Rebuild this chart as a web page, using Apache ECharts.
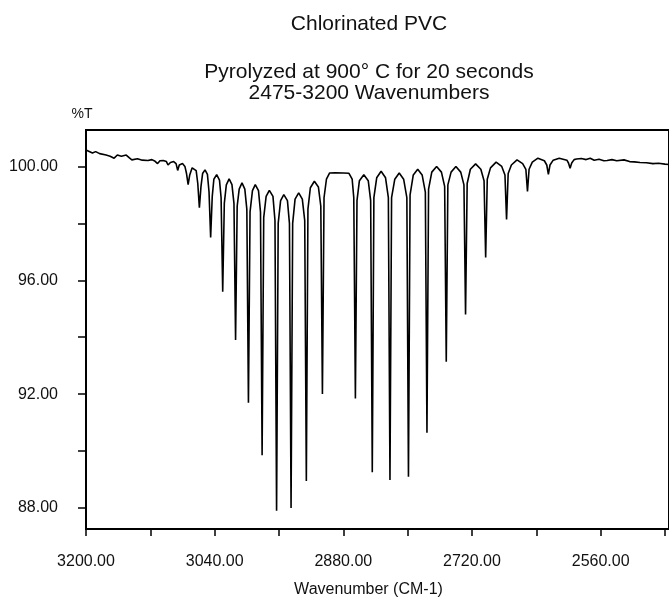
<!DOCTYPE html>
<html>
<head>
<meta charset="utf-8">
<title>Chlorinated PVC</title>
<script src="https://cdn.jsdelivr.net/npm/echarts/dist/echarts.min.js"></script>
<style>
  html, body { margin: 0; padding: 0; background: #fff; }
  #chart { width: 669px; height: 603px; }
</style>
</head>
<body>
<div id="chart"></div>
<script>
// spectrum, high wavenumber -> low
let wavenumbers = [
  3200, 3192, 3188, 3183, 3175, 3170, 3165, 3161, 3156, 3150, 3146, 3143, 3136, 3130,
  3123, 3118, 3114, 3111, 3108, 3104, 3100, 3098, 3095, 3091, 3088, 3086, 3084, 3080,
  3077, 3075, 3073, 3071, 3068, 3066,
  3063, 3061, 3059, 3057, 3055, 3052,
  3049, 3047, 3045, 3043, 3041, 3037.5,
  3034, 3032, 3030, 3028, 3025.5, 3022,
  3018.5, 3016, 3014, 3012, 3009.5, 3006,
  3002.5, 3000, 2998, 2996, 2993, 2989.5,
  2985.5, 2983, 2981, 2979, 2976, 2972,
  2967.5, 2965, 2963, 2961, 2958, 2954,
  2949.5, 2947, 2945, 2943, 2940, 2935.5,
  2931, 2928, 2926, 2924, 2921, 2916,
  2911, 2908, 2906, 2904, 2901, 2897,
  2890, 2880, 2873,
  2869, 2867, 2865, 2863, 2860, 2854.5,
  2849, 2846, 2844, 2842, 2838.5, 2833,
  2827.5, 2824, 2822, 2820, 2816, 2810.5,
  2805, 2801, 2799, 2797, 2793, 2787.5,
  2782, 2778, 2776, 2774, 2770, 2764,
  2758, 2754, 2752, 2750, 2746, 2740,
  2734, 2730, 2728, 2726, 2722, 2715.5,
  2709, 2705, 2703, 2701, 2697, 2690,
  2683, 2679, 2677, 2675, 2671, 2664,
  2657, 2653, 2651, 2649, 2645, 2638,
  2630, 2627, 2625, 2623, 2619, 2611.5,
  2602, 2600, 2598, 2596, 2593, 2590,
  2584, 2578, 2573, 2568, 2562, 2556, 2552, 2546, 2540, 2531, 2524, 2518, 2511, 2503,
  2495, 2488, 2480, 2475
];
let transmittance = [
  100.58, 100.47, 100.52, 100.45, 100.40, 100.36, 100.29, 100.40, 100.36, 100.40, 100.30, 100.23, 100.27, 100.22,
  100.21, 100.24, 100.18, 100.10, 100.20, 100.21, 100.17, 100.05, 100.14, 100.17, 100.10, 99.86, 100.05, 100.10,
  100.0, 99.75, 99.36, 99.7, 99.95, 100.0,
  99.85, 99.4, 98.55, 99.3, 99.75, 99.88,
  99.72, 99.1, 97.5, 98.95, 99.55, 99.71,
  99.52, 98.9, 95.6, 98.7, 99.35, 99.56,
  99.36, 98.7, 93.9, 98.6, 99.2, 99.42,
  99.2, 98.5, 91.7, 98.4, 99.15, 99.36,
  99.15, 98.4, 89.85, 98.2, 98.95, 99.16,
  98.95, 98.1, 87.9, 98.0, 98.8, 99.01,
  98.8, 98.0, 88.0, 98.0, 98.85, 99.07,
  98.85, 98.1, 88.95, 98.5, 99.25, 99.48,
  99.28, 98.6, 92.0, 98.9, 99.55, 99.77,
  99.78, 99.77, 99.76,
  99.55, 98.9, 91.85, 98.8, 99.5, 99.71,
  99.5, 98.8, 89.25, 98.9, 99.6, 99.83,
  99.6, 98.9, 88.98, 98.9, 99.55, 99.77,
  99.55, 98.9, 89.1, 99.0, 99.7, 99.9,
  99.7, 99.1, 90.64, 99.2, 99.8, 100.0,
  99.8, 99.3, 93.14, 99.35, 99.8, 100.0,
  99.8, 99.35, 94.8, 99.4, 99.9, 100.09,
  99.9, 99.5, 96.8, 99.55, 99.95, 100.15,
  100.0, 99.7, 98.14, 99.75, 100.05, 100.23,
  100.1, 99.9, 99.12, 99.9, 100.15, 100.29,
  100.2, 100.05, 99.72, 100.05, 100.22, 100.29,
  100.22, 100.12, 99.94, 100.12, 100.24, 100.26,
  100.28, 100.24, 100.29, 100.22, 100.25, 100.2, 100.21, 100.24, 100.2, 100.23, 100.17, 100.16, 100.14, 100.13,
  100.1, 100.11, 100.08, 100.07
];

let xLabelValues = [3200, 3040, 2880, 2720, 2560];
let xTickValues = [3200, 3120, 3040, 2960, 2880, 2800, 2720, 2640, 2560, 2480];
let yLabelValues = [88, 92, 96, 100];
let yTickValues = [88, 90, 92, 94, 96, 98, 100];

let titleLines = ['Chlorinated PVC', 'Pyrolyzed at 900° C for 20 seconds', '2475-3200 Wavenumbers'];

let seriesData = wavenumbers.map((w, i) => [w, transmittance[i]]);

let chartDom = document.getElementById('chart');
let myChart = echarts.init(chartDom, null, { renderer: 'canvas' });
let font = '"Liberation Sans", Arial, Helvetica, sans-serif';

function textEl(str, x, y, size) {
  return {
    type: 'text',
    x: x,
    y: y,
    silent: true,
    style: {
      text: str,
      font: size + 'px ' + font,
      fill: '#111',
      textAlign: 'center',
      textVerticalAlign: 'middle',
      align: 'center',
      verticalAlign: 'middle'
    }
  };
}

let option = {
  animation: false,
  backgroundColor: '#fff',
  graphic: [
    textEl(titleLines[0], 369, 24, 21),
    textEl(titleLines[1], 369, 72, 21),
    textEl(titleLines[2], 369, 93, 21),
    textEl('%T', 82, 114, 14)
  ],
  grid: {
    left: 86,
    top: 130,
    width: 587,
    height: 402,
    show: true,
    borderColor: '#000',
    borderWidth: 2,
    backgroundColor: 'transparent'
  },
  xAxis: {
    type: 'value',
    inverse: true,
    min: 2475,
    max: 3200,
    name: 'Wavenumber (CM-1)',
    nameLocation: 'middle',
    nameGap: 53,
    nameTextStyle: {
      fontFamily: font,
      fontSize: 16,
      color: '#111',
      padding: [0, 18, 0, 0]
    },
    axisLine: { lineStyle: { color: '#000', width: 2 } },
    axisTick: {
      length: 7,
      customValues: xTickValues,
      lineStyle: { color: '#000', width: 1.5 }
    },
    axisLabel: {
      customValues: xLabelValues,
      margin: 25,
      fontFamily: font,
      fontSize: 16,
      color: '#111',
      formatter: val => val.toFixed(2)
    },
    splitLine: { show: false }
  },
  yAxis: {
    type: 'value',
    min: 87.26,
    max: 101.28,
    axisLine: { show: true, lineStyle: { color: '#000', width: 2 } },
    axisTick: {
      show: true,
      length: 8,
      customValues: yTickValues,
      lineStyle: { color: '#000', width: 1.5 }
    },
    axisLabel: {
      customValues: yLabelValues,
      margin: 28,
      fontFamily: font,
      fontSize: 16,
      color: '#111',
      formatter: val => val.toFixed(2)
    },
    splitLine: { show: false }
  },
  series: [
    {
      name: '%T',
      type: 'line',
      showSymbol: false,
      smooth: false,
      lineStyle: { color: '#000', width: 1.6 },
      data: seriesData
    }
  ]
};

option && myChart.setOption(option);
</script>
</body>
</html>
